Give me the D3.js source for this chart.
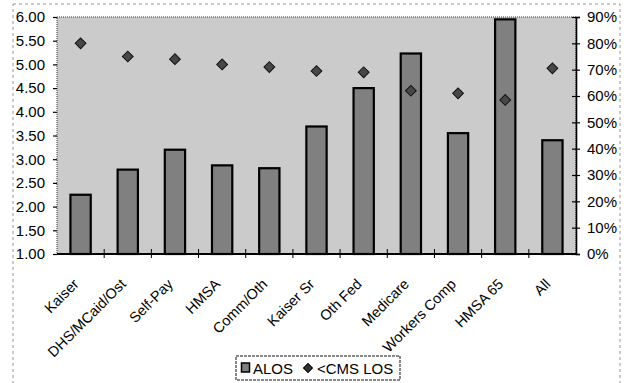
<!DOCTYPE html>
<html><head><meta charset="utf-8">
<script src="https://cdn.jsdelivr.net/npm/d3@7"></script>
<style>
body{margin:0;background:#fff}
svg text{font-family:"Liberation Sans",Arial,sans-serif;fill:#000}
</style>
</head><body>
<svg id="chart" width="626" height="383"></svg>
<script>
const categories = ["Kaiser","DHS/MCaid/Ost","Self-Pay","HMSA","Comm/Oth","Kaiser Sr","Oth Fed","Medicare","Workers Comp","HMSA 65","All"];
const alos = [2.25,2.78,3.20,2.87,2.81,3.69,4.50,5.23,3.55,5.95,3.40];
const cmsPct = [0.80,0.75,0.74,0.72,0.71,0.695,0.69,0.62,0.61,0.585,0.705];
const leftTicks = [1.0,1.5,2.0,2.5,3.0,3.5,4.0,4.5,5.0,5.5,6.0];
const rightTicks = [0,0.1,0.2,0.3,0.4,0.5,0.6,0.7,0.8,0.9];
const seriesNames = ["ALOS","<CMS LOS"];

const FONT = "'Liberation Sans', Arial, sans-serif";
const svg = d3.select("#chart");
const L = 57, R = 576, T = 17, B = 254;

const x = d3.scaleBand().domain(categories).range([L, R]).paddingInner(0.57).paddingOuter(0.285);
const yL = d3.scaleLinear().domain([1, 6]).range([B, T]);
const yR = d3.scaleLinear().domain([0, 0.9]).range([B, T]);
const step = x.step();

// outer scanned chart border
svg.append("rect").attr("x", 13).attr("y", 4).attr("width", 607).attr("height", 420)
  .attr("fill", "none").attr("stroke", "#999").attr("stroke-width", 1).attr("stroke-dasharray", "3,3");

// plot area
svg.append("rect").attr("x", L).attr("y", T).attr("width", R - L).attr("height", B - T)
  .attr("fill", "#cbcbcb").attr("stroke", "#333").attr("stroke-width", 1).attr("stroke-dasharray", "1,1");

// bars
svg.append("g").selectAll("rect").data(categories).join("rect")
  .attr("x", d => x(d))
  .attr("y", (d, i) => yL(alos[i]))
  .attr("width", x.bandwidth())
  .attr("height", (d, i) => B - yL(alos[i]))
  .attr("fill", "#808080").attr("stroke", "#000").attr("stroke-width", 2.2);

// diamonds
const diamond = d3.symbol(d3.symbolSquare, 58);
svg.append("g").selectAll("path").data(categories).join("path")
  .attr("d", diamond)
  .attr("transform", (d, i) => `translate(${x(d) + x.bandwidth() / 2},${yR(cmsPct[i])}) rotate(45)`)
  .attr("fill", "#474747").attr("stroke", "#111").attr("stroke-width", 1);

// left axis
const gL = svg.append("g").attr("transform", `translate(${L},0)`)
  .call(d3.axisLeft(yL).tickValues(leftTicks).tickFormat(d3.format(".2f")).tickSize(4).tickPadding(8));
gL.attr("font-family", FONT);
gL.select(".domain").remove();
gL.selectAll(".tick line").attr("stroke", "#000").attr("stroke-width", 1.2);
gL.selectAll(".tick text").attr("font-size", 15);

// right axis
const gR = svg.append("g").attr("transform", `translate(${R},0)`)
  .call(d3.axisRight(yR).tickValues(rightTicks).tickFormat(d3.format(".0%")).tickSize(4).tickPadding(7));
gR.attr("font-family", FONT);
gR.select(".domain").attr("stroke", "#000").attr("stroke-width", 1.6);
gR.selectAll(".tick line").attr("x1", -4).attr("stroke", "#000").attr("stroke-width", 1.2);
gR.selectAll(".tick text").attr("font-size", 15);

// bottom axis
const boundaries = d3.range(1, categories.length).map(i => L + i * step);
svg.append("line").attr("x1", L).attr("x2", R).attr("y1", B).attr("y2", B)
  .attr("stroke", "#000").attr("stroke-width", 2.2);
svg.append("g").selectAll("line").data(boundaries).join("line")
  .attr("x1", d => d).attr("x2", d => d).attr("y1", B - 5).attr("y2", B + 4)
  .attr("stroke", "#000").attr("stroke-width", 1);

// category labels
svg.append("g").selectAll("text").data(categories).join("text")
  .attr("transform", d => `translate(${x(d) + x.bandwidth() / 2 - 1},${B + 31}) rotate(-45)`)
  .attr("text-anchor", "end")
  .attr("font-size", 14.5)
  .text(d => d);

// legend
const lg = svg.append("g");
lg.append("rect").attr("x", 236).attr("y", 356).attr("width", 164).attr("height", 24)
  .attr("fill", "#fff").attr("stroke", "#111").attr("stroke-width", 1).attr("stroke-dasharray", "3,1");
lg.append("rect").attr("x", 241.5).attr("y", 363).attr("width", 8).attr("height", 9)
  .attr("fill", "#808080").attr("stroke", "#000").attr("stroke-width", 1.5);
lg.append("text").attr("x", 253).attr("y", 374).attr("font-size", 15).text(seriesNames[0]);
lg.append("path").attr("d", d3.symbol(d3.symbolSquare, 40))
  .attr("transform", "translate(308,368) rotate(45)")
  .attr("fill", "#333").attr("stroke", "#000").attr("stroke-width", 1);
lg.append("text").attr("x", 317).attr("y", 374).attr("font-size", 15).text(seriesNames[1]);
</script>
</body></html>
